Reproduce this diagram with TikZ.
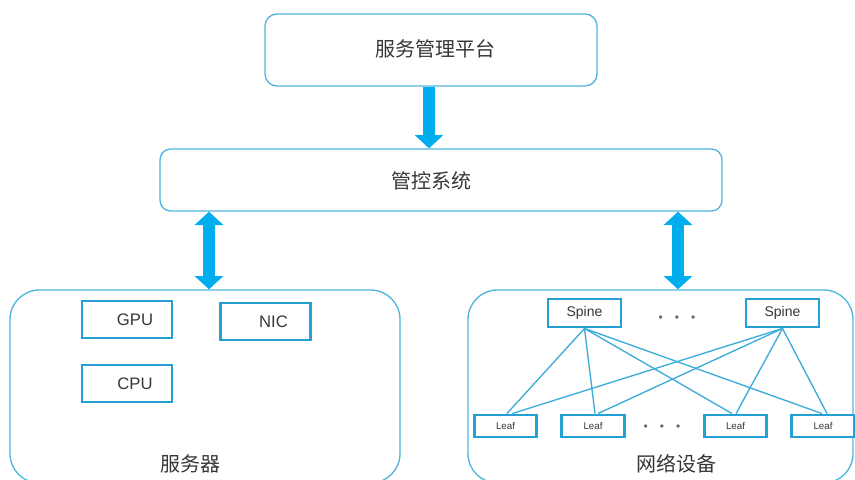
\documentclass[tikz,border=0pt]{standalone}
\usepackage{fontspec}
\setmainfont{Liberation Sans}
\newfontfamily\cjk{Noto Sans CJK SC}
\usetikzlibrary{arrows.meta,calc}
\definecolor{outerblue}{RGB}{80,180,222}
\definecolor{innerblue}{RGB}{35,160,212}
\definecolor{linkblue}{RGB}{60,172,218}
\definecolor{arrowblue}{RGB}{0,174,238}
\definecolor{txt}{RGB}{55,55,55}
\begin{document}
\begin{tikzpicture}[x=0.75pt,y=-0.75pt,
  outerbox/.style={draw=outerblue,line width=1pt,fill=white,inner sep=0pt},
  innerbox/.style={draw=innerblue,line width=2.2pt,fill=white,inner sep=0pt,text=txt},
  cjklabel/.style={font=\cjk\fontsize{15}{18}\selectfont,text=txt,inner sep=0pt},
  dots/.style={font=\fontsize{9}{10}\selectfont,text=black!60,inner sep=0pt},
  link/.style={draw=linkblue,line width=1pt},
  bigarrow/.style={draw=arrowblue,line width=9pt,-{Triangle[width=21pt,length=10pt]}},
  dblarrow/.style={draw=arrowblue,line width=9.5pt,{Triangle[width=21pt,length=10pt]}-{Triangle[width=21pt,length=10pt]}}
]
\useasboundingbox (0,0) rectangle (855,479);
\fill[white] (0,0) rectangle (855,479);

% top boxes
\node[outerbox,rounded corners=9pt,minimum width=249pt,minimum height=54pt] (top) at (431,50) {};
\node[cjklabel] (toplabel) at (435,49) {服务管理平台};
\node[outerbox,rounded corners=8pt,minimum width=421.5pt,minimum height=46.5pt] (ctrl) at (441,180) {};
\node[cjklabel] (ctrllabel) at (431,181) {管控系统};

% lower containers
\node[outerbox,rounded corners=22pt,minimum width=292.5pt,minimum height=144.75pt] (server) at (205,386.5) {};
\node[outerbox,rounded corners=22pt,minimum width=288.75pt,minimum height=144.75pt] (net) at (660.5,386.5) {};
\node[cjklabel] (serverlabel) at (190,464) {服务器};
\node[cjklabel] (netlabel) at (676,464) {网络设备};

% arrows
\draw[bigarrow] (top.south -| 429,0) -- (ctrl.north -| 429,0);
\coordinate (lx) at (209,0);
\coordinate (rx) at (678,0);
\draw[dblarrow] (ctrl.south -| lx) -- (server.north -| lx);
\draw[dblarrow] (ctrl.south -| rx) -- (net.north -| rx);

% server components
\tikzset{compbox/.style={innerbox,minimum width=67.5pt,minimum height=27.75pt,font=\fontsize{12.5}{14}\selectfont}}
\node[compbox] (gpu) at (127,319.5) {\hspace*{12pt}GPU};
\node[compbox] (nic) at (265.5,321.5) {\hspace*{12pt}NIC};
\node[compbox] (cpu) at (127,383.5) {\hspace*{12pt}CPU};

% spine / leaf
\tikzset{spinebox/.style={innerbox,minimum width=54.75pt,minimum height=21pt,font=\fontsize{10.5}{12}\selectfont},
         leafbox/.style={innerbox,minimum width=47pt,minimum height=16.5pt,font=\fontsize{7.3}{8}\selectfont}}
\node[spinebox] (sp1) at (584.5,313) {Spine};
\node[spinebox] (sp2) at (782.5,313) {Spine};
\node[dots] (spdots) at (677,319) {•\hspace{9pt}•\hspace{9pt}•};
\node[leafbox] (lf1) at (505.5,426) {Leaf};
\node[leafbox] (lf2) at (593,426) {Leaf};
\node[leafbox] (lf3) at (735.5,426) {Leaf};
\node[leafbox] (lf4) at (823,426) {Leaf};
\node[dots] (lfdots) at (662,428) {•\hspace{9pt}•\hspace{9pt}•};

\draw[link] (sp1.south) -- ([xshift=1.1pt]lf1.north);
\draw[link] (sp1.south) -- ([xshift=1.5pt]lf2.north);
\draw[link] (sp1.south) -- ([xshift=-2.6pt]lf3.north);
\draw[link] (sp1.south) -- ([xshift=-0.8pt]lf4.north);
\draw[link] (sp2.south) -- ([xshift=5pt]lf1.north);
\draw[link] (sp2.south) -- ([xshift=3.7pt]lf2.north);
\draw[link] (sp2.south) -- ([xshift=0.4pt]lf3.north);
\draw[link] (sp2.south) -- ([xshift=3pt]lf4.north);
\end{tikzpicture}
\end{document}
